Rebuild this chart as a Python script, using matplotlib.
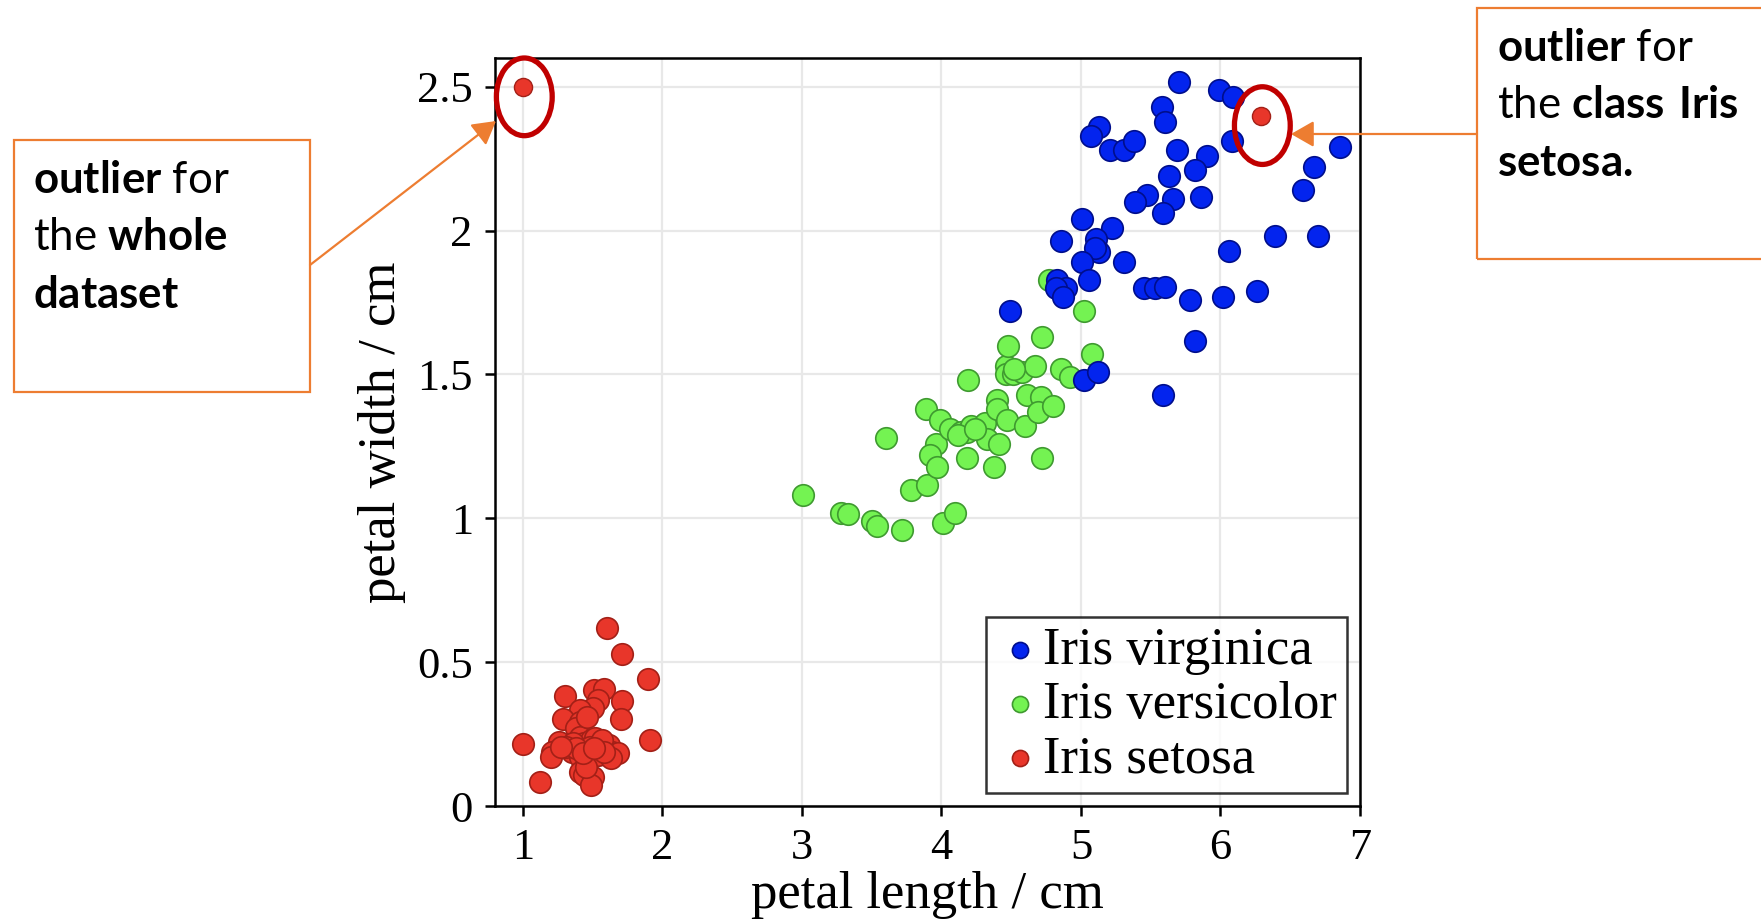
import matplotlib
matplotlib.use("Agg")
import matplotlib.pyplot as plt
from matplotlib.patches import Ellipse, Rectangle, FancyArrowPatch

W, H = 1761, 923

# ---- data ----
virginica_len = [5.70, 5.99, 6.09, 5.58, 5.60, 5.13, 5.07, 5.21, 5.31, 5.38,
                 5.69, 5.90, 6.08, 6.86, 6.67, 6.59, 5.82, 5.63, 5.47, 5.39,
                 5.66, 5.59, 5.86, 5.01, 5.22, 4.86, 5.11, 5.13, 5.10, 5.01,
                 5.31, 6.39, 6.70, 6.06, 5.06, 4.83, 4.89, 4.82, 4.87, 5.45,
                 5.53, 5.60, 5.78, 6.02, 6.26, 4.49, 5.82, 5.02, 5.12, 5.59]
virginica_wid = [2.515, 2.49, 2.465, 2.43, 2.376, 2.36, 2.33, 2.28, 2.28, 2.31,
                 2.28, 2.26, 2.31, 2.29, 2.22, 2.14, 2.21, 2.19, 2.125, 2.10,
                 2.11, 2.06, 2.118, 2.04, 2.01, 1.965, 1.97, 1.925, 1.94, 1.89,
                 1.89, 1.98, 1.98, 1.93, 1.83, 1.83, 1.80, 1.80, 1.77, 1.80,
                 1.80, 1.805, 1.76, 1.77, 1.79, 1.72, 1.616, 1.48, 1.51, 1.43]

versicolor_len = [3.01, 3.28, 3.33, 3.50, 3.54, 3.72, 4.01, 4.10, 3.78, 3.90,
                  3.60, 3.89, 3.99, 3.96, 3.92, 3.97, 4.06, 4.14, 4.18, 4.21,
                  4.18, 4.19, 4.31, 4.33, 4.40, 4.40, 4.41, 4.38, 4.47, 4.46,
                  4.48, 4.46, 4.51, 4.58, 4.72, 4.67, 4.61, 4.60, 4.71, 4.69,
                  4.80, 4.72, 4.86, 4.92, 5.02, 5.08, 4.77, 4.12, 4.24, 4.52]
versicolor_wid = [1.08, 1.02, 1.015, 0.99, 0.975, 0.96, 0.985, 1.02, 1.10, 1.116,
                  1.28, 1.38, 1.34, 1.26, 1.22, 1.18, 1.31, 1.30, 1.30, 1.32,
                  1.21, 1.48, 1.33, 1.275, 1.41, 1.38, 1.26, 1.18, 1.34, 1.53,
                  1.60, 1.50, 1.50, 1.51, 1.63, 1.53, 1.43, 1.32, 1.42, 1.37,
                  1.39, 1.21, 1.52, 1.49, 1.72, 1.57, 1.83, 1.29, 1.31, 1.52]

setosa_len = [1.60, 1.71, 1.90, 1.91, 1.00, 1.12, 1.30, 1.51, 1.58, 1.54,
              1.50, 1.41, 1.71, 1.70, 1.29, 1.41, 1.38, 1.26, 1.21, 1.20,
              1.35, 1.41, 1.44, 1.49, 1.52, 1.55, 1.54, 1.62, 1.64, 1.68,
              1.63, 1.41, 1.41, 1.44, 1.50, 1.49, 1.45, 1.36, 1.31, 1.48,
              1.57, 1.58, 1.38, 1.43, 1.51, 1.46, 1.27]
setosa_wid = [0.619, 0.530, 0.440, 0.229, 0.215, 0.082, 0.382, 0.403, 0.405, 0.368,
              0.339, 0.333, 0.366, 0.304, 0.304, 0.293, 0.270, 0.223, 0.189, 0.171,
              0.189, 0.241, 0.218, 0.229, 0.235, 0.200, 0.177, 0.212, 0.189, 0.183,
              0.166, 0.171, 0.119, 0.108, 0.102, 0.073, 0.137, 0.218, 0.206, 0.206,
              0.229, 0.189, 0.200, 0.183, 0.200, 0.310, 0.206]

# the two marked outliers
outlier_len = [1.00, 6.29]
outlier_wid = [2.50, 2.40]

xticks = [1, 2, 3, 4, 5, 6, 7]
yticks = [0, 0.5, 1, 1.5, 2, 2.5]
ytick_labels = ["0", "0.5", "1", "1.5", "2", "2.5"]

plt.rcParams["mathtext.fontset"] = "custom"
plt.rcParams["mathtext.rm"] = "Lato"
plt.rcParams["mathtext.bf"] = "Lato:bold"

SERIF = "Liberation Serif"
ORANGE = "#ed7d31"
DARKRED = "#c00000"


def fx(px):
    return px / W


def fy(py):
    return 1 - py / H


fig = plt.figure(figsize=(W / 100, H / 100), dpi=100)
ax = fig.add_axes([fx(495), fy(806), (1360 - 495) / W, (806 - 58) / H])

ms = 240
ax.scatter(versicolor_len, versicolor_wid, s=ms, color="#74f352",
           edgecolors="#3f9a30", linewidths=1.2, zorder=3, label="Iris versicolor")
ax.scatter(virginica_len, virginica_wid, s=ms, color="#0324ee",
           edgecolors="#000e8c", linewidths=1.2, zorder=4, label="Iris virginica")
ax.scatter(setosa_len, setosa_wid, s=ms, color="#e8362a",
           edgecolors="#a32017", linewidths=1.2, zorder=4, label="Iris setosa")
ax.scatter(outlier_len, outlier_wid, s=170, color="#e8362a",
           edgecolors="#a32017", linewidths=1.0, zorder=5)

# red rings round the outliers
for xo, yo in zip(outlier_len, outlier_wid):
    ax.add_patch(Ellipse((xo + 0.01, yo - 0.035), 0.40, 0.27, fill=False,
                         edgecolor=DARKRED, lw=3.8, zorder=6, clip_on=False))

ax.set_xlim(0.8, 7.0)
ax.set_ylim(0, 2.6)
ax.set_xticks(xticks)
ax.set_yticks(yticks)
ax.set_yticklabels(ytick_labels)
ax.grid(True, color="#e8e8e8", lw=1.6, zorder=0)
ax.set_axisbelow(True)
for s in ax.spines.values():
    s.set_linewidth(1.8)
ax.tick_params(direction="out", length=7, width=1.8, pad=9, labelsize=32)
for lab in ax.get_xticklabels() + ax.get_yticklabels():
    lab.set_family(SERIF)
ax.set_xlabel("petal length / cm", family=SERIF, fontsize=38, labelpad=2)
ax.set_ylabel("petal width / cm", family=SERIF, fontsize=38, labelpad=8)

h, l = ax.get_legend_handles_labels()
order = [1, 0, 2]
leg = ax.legend([h[i] for i in order], [l[i] for i in order], loc="lower right",
                prop={"family": SERIF, "size": 38}, frameon=True, fancybox=False,
                edgecolor="black", borderaxespad=0.25, markerscale=0.75,
                handletextpad=0.0, labelspacing=0.12, borderpad=0.18,
                handlelength=0.9)
leg.get_frame().set_linewidth(1.8)

# annotation boxes
fig.add_artist(Rectangle((fx(13.5), fy(392)), (310 - 13.5) / W, (392 - 140) / H,
                         transform=fig.transFigure, fill=False,
                         edgecolor=ORANGE, lw=1.6))
fig.add_artist(Rectangle((fx(1477), fy(259)), (1800 - 1477) / W, (259 - 8) / H,
                         transform=fig.transFigure, fill=False,
                         edgecolor=ORANGE, lw=1.6))

ann_kw = dict(family="Lato", fontsize=31.5, ha="left", va="baseline", color="black")
left_lines = [r"$\mathbf{outlier}$ for", r"the $\mathbf{whole}$", r"$\mathbf{dataset}$"]
for line, yb in zip(left_lines, [193, 250, 308]):
    fig.text(fx(33), fy(yb), line, **ann_kw)
right_lines = [r"$\mathbf{outlier}$ for", r"the $\mathbf{class\ Iris}$", r"$\mathbf{setosa.}$"]
for line, yb in zip(right_lines, [61, 118, 176]):
    fig.text(fx(1497), fy(yb), line, **ann_kw)

# arrows from the boxes to the rings
for a, b in [((310, 265), (496, 121)), ((1477, 134), (1291, 134))]:
    fig.add_artist(FancyArrowPatch((fx(a[0]), fy(a[1])), (fx(b[0]), fy(b[1])),
                                   transform=fig.transFigure,
                                   arrowstyle="-|>,head_length=0.7,head_width=0.4",
                                   mutation_scale=20, color=ORANGE, lw=1.6,
                                   shrinkA=0, shrinkB=0))

fig.savefig("out.png", dpi=100)
